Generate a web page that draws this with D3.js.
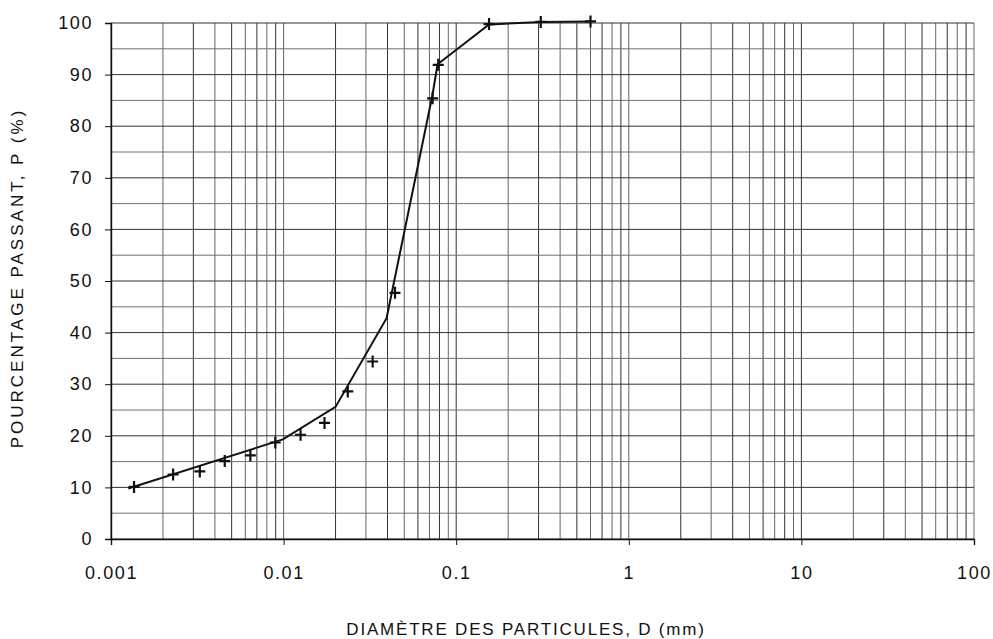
<html>
<head>
<meta charset="utf-8">
<style>
body { margin: 0; background: #fff; }
text { font-family: "Liberation Sans", Arial, sans-serif; fill: #111; }
</style>
</head>
<body>
<div id="chart"></div>
<script src="https://d3js.org/d3.v7.min.js"></script>
<script>

// measured points (crosses)
var diamPts = [0.00136, 0.00229, 0.00327, 0.00456, 0.00642, 0.00895, 0.01254, 0.01726, 0.02355, 0.0328, 0.0442, 0.0730, 0.0787, 0.155, 0.309, 0.60]
var passPts = [10.1, 12.5, 13.1, 15.1, 16.2, 18.7, 20.2, 22.5, 28.6, 34.4, 47.7, 85.4, 91.9, 99.8, 100.2, 100.3]

// curve vertices
var diamLine = [0.00126, 0.0099, 0.0200, 0.0395, 0.0728, 0.0780, 0.155, 0.309, 0.60]
var passLine = [9.8, 19.3, 25.6, 42.8, 86.0, 92.0, 99.7, 100.2, 100.3]

var xTicks = [0.001, 0.01, 0.1, 1, 10, 100]
var xTickLabels = ["0.001", "0.01", "0.1", "1", "10", "100"]
var yTicks = [0, 10, 20, 30, 40, 50, 60, 70, 80, 90, 100]

var xTitle = "DIAMÈTRE DES PARTICULES, D (mm)"
var yTitle = "POURCENTAGE PASSANT, P (%)"

var W = 993, H = 639
var margin = {top: 23, right: 19, bottom: 100, left: 111}
var width = W - margin.left - margin.right,
    height = H - margin.top - margin.bottom

var svg = d3.select("#chart")
  .append("svg")
  .attr("width", W)
  .attr("height", H)

var g = svg.append("g")
  .attr("transform", "translate(" + margin.left + "," + margin.top + ")")

var x = d3.scaleLog()
  .domain([0.001, 100])
  .range([0, width])

var y = d3.scaleLinear()
  .domain([0, 100])
  .range([height, 0])

// vertical grid: every 1..9 in each decade
var vGrid = []
for (var e = -3; e < 2; e++) {
  for (var k = 1; k <= 9; k++) vGrid.push(k * Math.pow(10, e))
}
vGrid.push(100)

g.selectAll(".vgrid")
  .data(vGrid)
  .enter().append("line")
  .attr("class", "vgrid")
  .attr("x1", d => x(d)).attr("x2", d => x(d))
  .attr("y1", 0).attr("y2", height)
  .style("stroke", (d, i) => i % 2 == 0 ? "#333" : "#666")
  .style("stroke-width", 1)

var hGrid = d3.range(0, 101, 5)
g.selectAll(".hgrid")
  .data(hGrid)
  .enter().append("line")
  .attr("class", "hgrid")
  .attr("x1", 0).attr("x2", width)
  .attr("y1", d => y(d)).attr("y2", d => y(d))
  .style("stroke", (d, i) => i % 2 == 0 ? "#333" : "#707070")
  .style("stroke-width", 1)

// axes
var yAxis = d3.axisLeft(y)
  .tickValues(yTicks)
  .tickSize(6)
  .tickPadding(12)

var xAxis = d3.axisBottom(x)
  .tickValues(xTicks)
  .tickFormat((d, i) => xTickLabels[i])
  .tickSize(6)
  .tickPadding(21)

var ya = g.append("g").attr("class", "y axis").call(yAxis)
var xa = g.append("g").attr("class", "x axis")
  .attr("transform", "translate(0," + height + ")")
  .call(xAxis)

g.selectAll(".axis path").style("stroke", "#111").style("stroke-width", 1.4)
g.selectAll(".axis line").style("stroke", "#111")
g.selectAll(".axis text")
  .style("font-size", "18px")
  .style("letter-spacing", "1.6px")
  .style("fill", "#111")

// curve
var line = d3.line()
  .x(d => x(d[0]))
  .y(d => y(d[1]))

g.append("path")
  .datum(d3.zip(diamLine, passLine))
  .attr("d", line)
  .style("fill", "none")
  .style("stroke", "#111")
  .style("stroke-width", 2)

// crosses
g.selectAll(".pt")
  .data(d3.zip(diamPts, passPts))
  .enter().append("path")
  .attr("class", "pt")
  .attr("transform", d => "translate(" + x(d[0]) + "," + y(d[1]) + ")")
  .attr("d", "M-5.5,0H5.5M0,-6V6")
  .style("stroke", "#111")
  .style("stroke-width", 2.2)
  .style("fill", "none")

// titles
svg.append("text")
  .attr("x", 526)
  .attr("y", 635)
  .attr("text-anchor", "middle")
  .style("font-size", "17px")
  .style("letter-spacing", "1.8px")
  .text(xTitle)

svg.append("text")
  .attr("transform", "translate(23," + 278 + ") rotate(-90)")
  .attr("text-anchor", "middle")
  .style("font-size", "17px")
  .style("letter-spacing", "3px")
  .text(yTitle)

</script>
</body>
</html>
